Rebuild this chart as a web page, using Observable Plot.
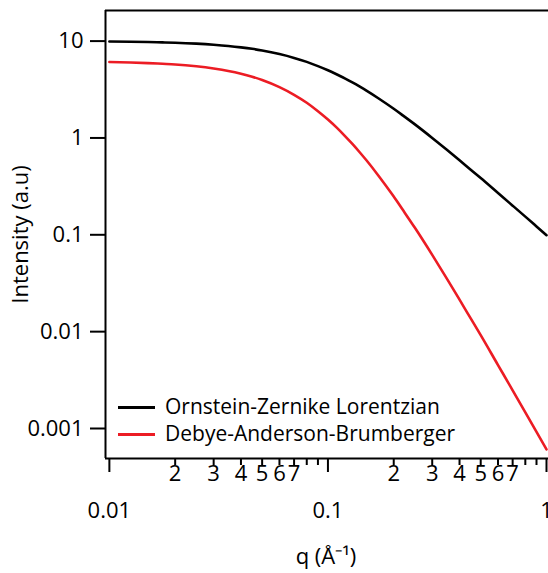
<!DOCTYPE html>
<html><head><meta charset="utf-8">
<script src="https://cdn.jsdelivr.net/npm/d3@7"></script>
<script src="https://cdn.jsdelivr.net/npm/@observablehq/plot@0.6"></script>
<style>
body{margin:0;background:#fff;}
#wrap{position:relative;width:548px;height:573px;font-family:"Open Sans",sans-serif;color:#000;}
.leg{position:absolute;left:118px;font-size:21px;line-height:26px;white-space:nowrap;}
.leg span.sw{display:inline-block;width:37px;height:3px;vertical-align:middle;margin-right:10px;position:relative;top:-1px;}
</style></head><body><div id="wrap"></div>
<script>
// q values (Å^-1) and read-off intensities
const q = [0.01, 0.0125, 0.015, 0.0175, 0.02, 0.025, 0.03, 0.035, 0.04, 0.045, 0.05, 0.06, 0.07, 0.08, 0.09, 0.1, 0.11, 0.12, 0.13, 0.14, 0.15, 0.17, 0.2, 0.22, 0.25, 0.3, 0.35, 0.4, 0.45, 0.5, 0.6, 0.7, 0.8, 0.9, 1.0];
const ozValues = [9.9, 9.85, 9.78, 9.70, 9.62, 9.41, 9.17, 8.91, 8.62, 8.32, 8.0, 7.35, 6.71, 6.10, 5.52, 5.0, 4.52, 4.10, 3.72, 3.38, 3.08, 2.57, 2.0, 1.71, 1.38, 1.0, 0.755, 0.588, 0.47, 0.385, 0.27, 0.2, 0.154, 0.122, 0.099];
const dabValues = [6.08, 6.02, 5.93, 5.83, 5.74, 5.49, 5.21, 4.92, 4.61, 4.29, 3.97, 3.35, 2.79, 2.31, 1.89, 1.55, 1.27, 1.04, 0.858, 0.708, 0.588, 0.41, 0.248, 0.181, 0.118, 0.062, 0.0353, 0.0214, 0.0137, 0.0092, 0.00452, 0.00248, 0.00147, 0.000924, 0.000608];
const seriesNames = ["Ornstein-Zernike Lorentzian", "Debye-Anderson-Brumberger"];
const seriesColors = ["#000000", "#ec1c24"];

const xDomain = [0.0096, 1];
const yDomain = [0.00049, 20.7];
const majorTicks = [0.01, 0.1, 1];
const majorLabels = ["0.01", "0.1", "1"];
const minorTicks = [0.02, 0.03, 0.04, 0.05, 0.06, 0.07, 0.08, 0.09, 0.2, 0.3, 0.4, 0.5, 0.6, 0.7, 0.8, 0.9];
const minorLabels = ["2", "3", "4", "5", "6", "7", "", "", "2", "3", "4", "5", "6", "7", "", ""];
const yTicks = [10, 1, 0.1, 0.01, 0.001];
const yLabels = ["10", "1", "0.1", "0.01", "0.001"];
const xTitle = "q (Å⁻¹)";
const yTitle = "Intensity (a.u)";

const data = [];
q.forEach((d, i) => data.push({q: d, I: ozValues[i], s: seriesNames[0]}));
q.forEach((d, i) => data.push({q: d, I: dabValues[i], s: seriesNames[1]}));

const majorMap = new Map(majorTicks.map((t, i) => [t, majorLabels[i]]));
const minorMap = new Map(minorTicks.map((t, i) => [t, minorLabels[i]]));
const yMap = new Map(yTicks.map((t, i) => [t, yLabels[i]]));

const chart = Plot.plot({
  width: 548, height: 573,
  marginLeft: 105, marginRight: 2, marginTop: 10, marginBottom: 115,
  style: {fontFamily: "'Open Sans', sans-serif", fontSize: "22px", color: "#000", background: "white", overflow: "visible"},
  x: {type: "log", domain: xDomain},
  y: {type: "log", domain: yDomain},
  color: {domain: seriesNames, range: seriesColors},
  marks: [
    Plot.axisY(yTicks, {tickSize: 15, tickPadding: 7, strokeWidth: 2, fontSize: 22, tickFormat: d => yMap.get(d),
      label: yTitle, labelAnchor: "center", labelOffset: 93, labelArrow: "none"}),
    Plot.axisX(minorTicks, {tickSize: 7, strokeWidth: 2, text: null, label: null}),
    Plot.text(minorTicks, {x: d => d, text: d => minorMap.get(d), frameAnchor: "bottom", dy: 22, fontSize: 22}),
    Plot.axisX(majorTicks, {tickSize: 14, tickPadding: 30, strokeWidth: 2, fontSize: 22, tickFormat: d => majorMap.get(d),
      label: xTitle, labelAnchor: "center", labelOffset: 105, labelArrow: "none"}),
    Plot.ruleX([xDomain[0]], {strokeWidth: 2}),
    Plot.ruleY([yDomain[0], yDomain[1]], {strokeWidth: 2, insetRight: -2}),
    Plot.line(data, {x: "q", y: "I", stroke: "s", strokeWidth: 2.6, curve: "monotone-x"})
  ]
});
const wrap = document.getElementById("wrap");
wrap.appendChild(chart);

// legend overlay inside plot area
seriesNames.forEach((name, i) => {
  const div = document.createElement("div");
  div.className = "leg";
  div.style.top = (393 + i * 27) + "px";
  div.innerHTML = `<span class="sw" style="background:${seriesColors[i]}"></span>${name}`;
  wrap.appendChild(div);
});
</script>
</body></html>
